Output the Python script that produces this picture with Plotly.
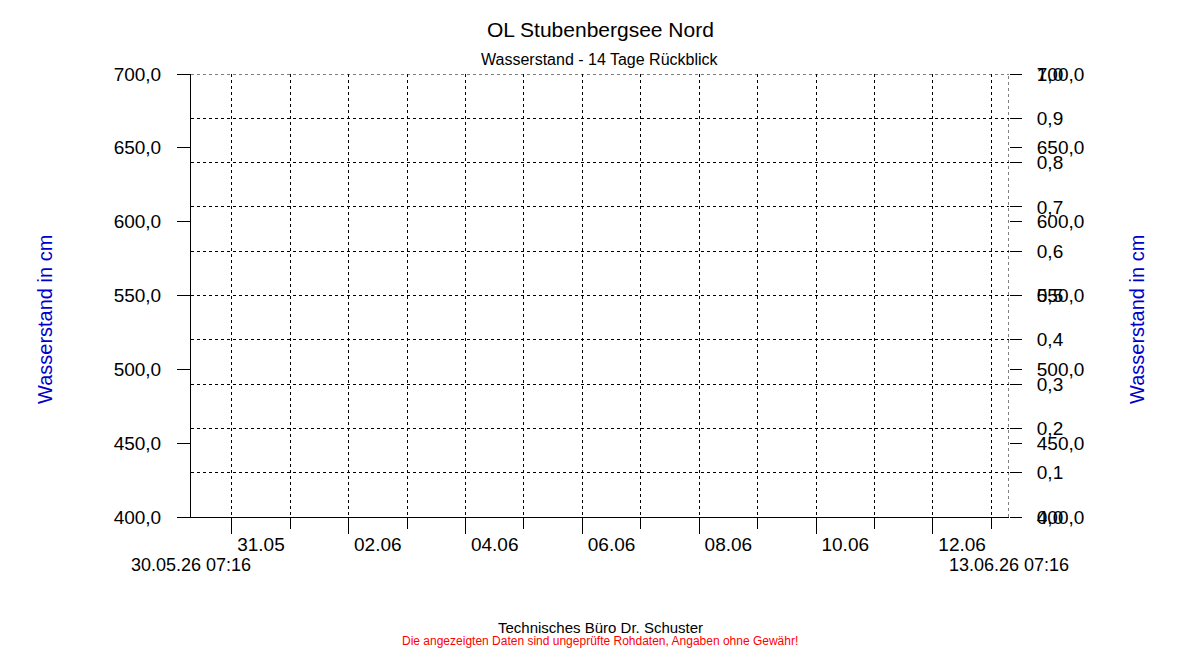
import plotly.graph_objects as go

# ---- texts ----
TITLE = "OL Stubenbergsee Nord"
SUBTITLE = "Wasserstand - 14 Tage Rückblick"
Y_TITLE = "Wasserstand in cm"
FOOTER = "Technisches Büro Dr. Schuster"
DISCLAIMER = "Die angezeigten Daten sind ungeprüfte Rohdaten, Angaben ohne Gewähr!"

# ---- time range ----
START = "2026-05-30 07:16"
END = "2026-06-13 07:16"
START_LABEL = "30.05.26 07:16"
END_LABEL = "13.06.26 07:16"

# ---- x ticks ----
DAY_TICKS = ["2026-05-31", "2026-06-01", "2026-06-02", "2026-06-03", "2026-06-04",
             "2026-06-05", "2026-06-06", "2026-06-07", "2026-06-08", "2026-06-09",
             "2026-06-10", "2026-06-11", "2026-06-12", "2026-06-13"]
MAJOR_DAYS = ["2026-05-31", "2026-06-02", "2026-06-04", "2026-06-06",
              "2026-06-08", "2026-06-10", "2026-06-12"]
LABEL_POS = ["2026-05-31 12:00", "2026-06-02 12:00", "2026-06-04 12:00", "2026-06-06 12:00",
             "2026-06-08 12:00", "2026-06-10 12:00", "2026-06-12 12:00"]
LABEL_TEXT = ["31.05", "02.06", "04.06", "06.06", "08.06", "10.06", "12.06"]

# ---- y ticks ----
LEVEL_RANGE = [400, 700]
LEVEL_TICKS = [400, 450, 500, 550, 600, 650, 700]
FRACTION_RANGE = [0, 1]
FRACTION_TICKS = [0.0, 0.1, 0.2, 0.3, 0.4, 0.5, 0.6, 0.7, 0.8, 0.9, 1.0]

# ---- measurement data (none available in this period) ----
TIMES = []
LEVELS = []

FONT = "Arial, 'Liberation Sans', sans-serif"
BLUE = "#0000CC"
DASH = "3px,3px"

# the page puts the figure 8px from the window's top-left corner
OFF = 8
W, H = 1200 - OFF, 650 - OFF
PLOT_L, PLOT_R, PLOT_TOP, PLOT_BOTTOM = 191 - OFF, 1009 - OFF, 74 - OFF, 517 - OFF
PLOT_W = PLOT_R - PLOT_L
PLOT_H = PLOT_BOTTOM - PLOT_TOP


def py(pix):
    return (PLOT_BOTTOM - (pix - OFF)) / PLOT_H


def px(pix):
    return ((pix - OFF) - PLOT_L) / PLOT_W


fig = go.Figure()
fig.add_trace(go.Scatter(x=TIMES, y=LEVELS, mode="lines", line=dict(color=BLUE),
                         xaxis="x", yaxis="y", showlegend=False))
for xa, ya in [("x2", "y"), ("x3", "y"), ("x", "y2"), ("x", "y3")]:
    fig.add_trace(go.Scatter(x=[], y=[], xaxis=xa, yaxis=ya, showlegend=False))

common_x = dict(type="date", range=[START, END], zeroline=False, fixedrange=True)
tick_font = dict(size=19, family=FONT, color="black")

fig.update_layout(
    width=W, height=H, autosize=False,
    margin=dict(l=PLOT_L, r=W - PLOT_R, t=PLOT_TOP, b=H - PLOT_BOTTOM, pad=0),
    paper_bgcolor="white", plot_bgcolor="white",
    separators=",.",
    font=dict(family=FONT, color="black", size=18),
    showlegend=False,
    xaxis=dict(**common_x, tickmode="array", tickvals=DAY_TICKS, ticks="outside",
               ticklen=11, tickwidth=1, tickcolor="black", showticklabels=False,
               showgrid=True, gridcolor="black", gridwidth=1, griddash=DASH,
               showline=True, linecolor="black", linewidth=1, anchor="y"),
    xaxis2=dict(**common_x, overlaying="x", anchor="y", tickmode="array",
                tickvals=MAJOR_DAYS, ticks="outside", ticklen=16, tickwidth=1,
                tickcolor="black", showticklabels=False, showgrid=False, showline=False),
    xaxis3=dict(**common_x, overlaying="x", anchor="y", tickmode="array",
                tickvals=LABEL_POS, ticktext=LABEL_TEXT, ticks="outside", ticklen=10,
                tickcolor="rgba(0,0,0,0)", showgrid=False, showline=False,
                tickfont=tick_font),
    yaxis=dict(range=LEVEL_RANGE, tickmode="array", tickvals=LEVEL_TICKS,
               tickformat=".1f", ticks="outside", ticklen=13, tickwidth=1,
               tickcolor="black", showline=True, linecolor="black", linewidth=1,
               showgrid=False, zeroline=False, fixedrange=True, anchor="x",
               ticklabelstandoff=12, tickfont=tick_font),
    yaxis2=dict(range=LEVEL_RANGE, overlaying="y", side="right", anchor="x",
                tickmode="array", tickvals=LEVEL_TICKS, tickformat=".1f",
                ticks="outside", ticklen=12, tickwidth=1, tickcolor="black",
                showline=False, showgrid=False, zeroline=False, fixedrange=True,
                ticklabelstandoff=11, tickfont=tick_font),
    yaxis3=dict(range=FRACTION_RANGE, overlaying="y", side="right", anchor="x",
                tickmode="array", tickvals=FRACTION_TICKS, tickformat=".1f",
                ticks="outside", ticklen=12, tickwidth=1, tickcolor="black",
                showline=False, showgrid=True, gridcolor="black", gridwidth=1,
                griddash=DASH, zeroline=False, fixedrange=True,
                ticklabelstandoff=11, tickfont=tick_font),
)

# dashed lines marking the end of the period and the top of the scale
fig.add_shape(type="line", xref="x", yref="paper", x0=END, x1=END, y0=0, y1=1,
              line=dict(color="black", width=1, dash=DASH), layer="above")
fig.add_shape(type="line", xref="x", yref="y3", x0=START, x1=END,
              y0=FRACTION_RANGE[1], y1=FRACTION_RANGE[1],
              line=dict(color="black", width=1, dash=DASH), layer="above")

ann = [
    dict(text=TITLE, y=30, size=21, color="black"),
    dict(text=SUBTITLE, y=59, size=16, color="black"),
    dict(text=FOOTER, y=627, size=15, color="black"),
    dict(text=DISCLAIMER, y=641, size=12, color="#FF0000"),
]
for a in ann:
    fig.add_annotation(text=a["text"], xref="paper", yref="paper", x=px(600), y=py(a["y"]),
                       xanchor="center", yanchor="middle", showarrow=False,
                       font=dict(size=a["size"], color=a["color"], family=FONT))

for xpos in (px(45), px(1137)):
    fig.add_annotation(text=Y_TITLE, xref="paper", yref="paper", x=xpos, y=py(320),
                       xanchor="center", yanchor="middle", textangle=-90, showarrow=False,
                       font=dict(size=20, color=BLUE, family=FONT))

for t, lab in ((START, START_LABEL), (END, END_LABEL)):
    fig.add_annotation(text=lab, xref="x", yref="paper", x=t, y=py(565),
                       xanchor="center", yanchor="middle", showarrow=False,
                       font=dict(size=18, color="black", family=FONT))

fig.write_html("out.html")
